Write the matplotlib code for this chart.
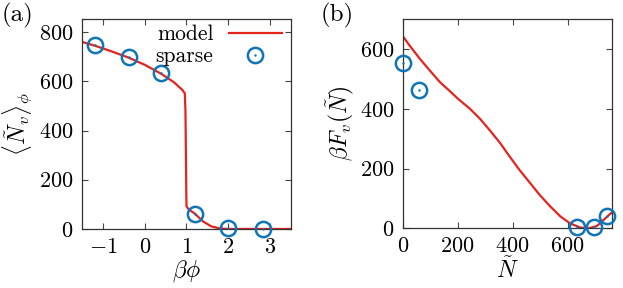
import matplotlib
matplotlib.use("Agg")
import matplotlib.pyplot as plt

plt.rcParams['font.family'] = 'serif'
plt.rcParams['font.serif'] = ['cmr10', 'DejaVu Serif']
plt.rcParams['mathtext.fontset'] = 'cm'
plt.rcParams['axes.formatter.use_mathtext'] = True
plt.rcParams['axes.unicode_minus'] = True

RED = '#e3241b'
BLUE = '#0f75b8'

# panel (a): mean vacancy number vs beta*phi
model_a_x = [-1.5, -1.2, -0.8, -0.4, 0.0, 0.4, 0.7, 0.9, 0.96, 0.975, 0.985, 0.995,
             1.0, 1.05, 1.2, 1.4, 1.6, 1.8, 2.0, 2.5, 3.0, 3.5]
model_a_y = [760, 745, 722, 697, 667, 630, 596, 565, 551, 480, 320, 150,
             92, 80, 62, 30, 10, 2, 0, 0, 0, 0]
sparse_a_x = [-1.2, -0.38, 0.4, 1.2, 2.0, 2.82]
sparse_a_y = [747, 697, 632, 62, 3, 1]

# panel (b): free energy vs N
model_b_x = [0, 26, 63, 99, 136, 172, 202, 245, 281, 317, 354, 390, 426, 463,
             499, 536, 572, 608, 645, 675, 706, 730, 762]
model_b_y = [644, 611, 567, 528, 489, 459, 433, 400, 367, 328, 286, 239, 194, 152,
             111, 74, 41, 17, 3, 0, 8, 28, 55]
sparse_b_x = [2, 59, 633, 696, 744]
sparse_b_y = [555, 463, 5, 3, 41]

fig = plt.figure(figsize=(6.23, 2.88), dpi=100)
ax1 = fig.add_axes([0.1316, 0.205, 0.3355, 0.729])
ax2 = fig.add_axes([0.6464, 0.207, 0.3364, 0.726])

mk = dict(ms=11, mfc='none', mec=BLUE, mew=1.8, clip_on=False, zorder=3)

ax1.plot(model_a_x, model_a_y, color=RED, lw=1.6, zorder=2)
ax1.plot(sparse_a_x, sparse_a_y, 'o', **mk)
ax1.plot(sparse_a_x, sparse_a_y, '.', ms=1.5, color=BLUE, clip_on=False, zorder=3)
# legend handle: circle with center dot
h_circ, = ax1.plot([], [], 'o', ms=11, mfc='none', mec=BLUE, mew=1.8)
h_dot, = ax1.plot([], [], '.', ms=1.5, color=BLUE)
h_line = ax1.get_lines()[0]
ax1.legend([h_line, (h_circ, h_dot)], ['model', 'sparse'], loc='upper right',
           frameon=False, markerfirst=False, fontsize=15.5, handlelength=2.5,
           borderaxespad=0.0, handletextpad=0.7, labelspacing=0.12,
           bbox_to_anchor=(1.0, 1.014))
ax1.set_xlim(-1.5, 3.5)
ax1.set_ylim(0, 853)
ax1.set_xticks([-1, 0, 1, 2, 3])
ax1.set_yticks([0, 200, 400, 600, 800])
ax1.set_xlabel(r'$\beta\phi$', fontsize=17, labelpad=1)
ax1.set_ylabel(r'$\langle \tilde{N}_v \rangle_\phi$', fontsize=17, labelpad=3)

ax2.plot(model_b_x, model_b_y, color=RED, lw=1.6, zorder=2)
ax2.plot(sparse_b_x, sparse_b_y, 'o', **mk)
ax2.plot(sparse_b_x, sparse_b_y, '.', ms=1.5, color=BLUE, clip_on=False, zorder=3)
ax2.set_xlim(0, 762)
ax2.set_ylim(0, 700)
ax2.set_xticks([0, 200, 400, 600])
ax2.set_yticks([0, 200, 400, 600])
ax2.set_xlabel(r'$\tilde{N}$', fontsize=17, labelpad=0.5)
ax2.set_ylabel(r'$\beta F_v(\tilde{N})$', fontsize=17, labelpad=3)

for ax in (ax1, ax2):
    ax.tick_params(direction='in', top=True, right=True, labelsize=16,
                   length=4, width=0.8, pad=6, color='#444444')
    for s in ax.spines.values():
        s.set_linewidth(0.9)
        s.set_color('#333333')

fig.text(0.003, 0.945, '(a)', fontsize=18, va='center', ha='left')
fig.text(0.515, 0.945, '(b)', fontsize=18, va='center', ha='left')

fig.savefig('out.png', dpi=100)
